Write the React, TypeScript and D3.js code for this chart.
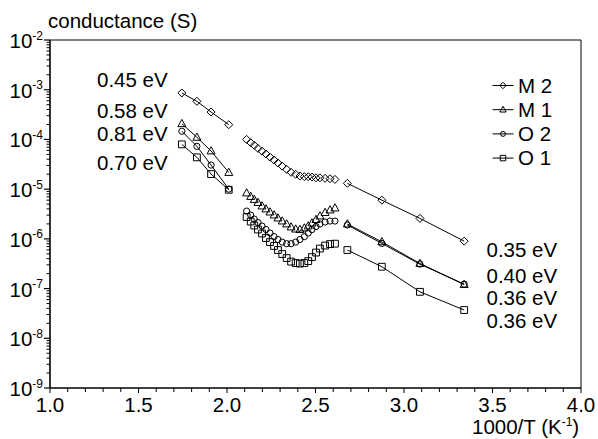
import React from 'react';
import * as d3 from 'd3';

// ---- data (1000/T in K^-1, conductance in S) ----
const leftX = [1.745, 1.83, 1.91, 2.01];
const midX = [2.111, 2.134, 2.154, 2.175, 2.198, 2.22, 2.243, 2.266, 2.288, 2.312, 2.337, 2.362, 2.388, 2.412, 2.437, 2.459, 2.48, 2.503, 2.525, 2.554, 2.582, 2.61];
const rightX = [2.68, 2.875, 3.09, 3.34];

const m2Left = [8.6e-4, 5.85e-4, 3.56e-4, 1.98e-4];
const m2Mid = [1.0e-4, 8.6e-5, 7.6e-5, 6.6e-5, 5.8e-5, 5.1e-5, 4.4e-5, 3.85e-5, 3.35e-5, 2.9e-5, 2.5e-5, 2.18e-5, 1.99e-5, 1.84e-5, 1.78e-5, 1.78e-5, 1.75e-5, 1.69e-5, 1.69e-5, 1.65e-5, 1.62e-5, 1.57e-5];
const m2Right = [1.31e-5, 6.0e-6, 2.58e-6, 9.0e-7];

const m1Left = [2.07e-4, 1.1e-4, 5.85e-5, 2.16e-5];
const m1Mid = [8.36e-6, 7.1e-6, 6.18e-6, 5.37e-6, 4.57e-6, 3.98e-6, 3.46e-6, 3.01e-6, 2.62e-6, 2.28e-6, 1.99e-6, 1.73e-6, 1.57e-6, 1.54e-6, 1.65e-6, 1.81e-6, 2.08e-6, 2.44e-6, 2.88e-6, 3.38e-6, 3.8e-6, 4.17e-6];
const m1Right = [1.99e-6, 8.7e-7, 3.2e-7, 1.2e-7];

const o2Left = [1.46e-4, 7.26e-5, 3.05e-5, 1.0e-5];
const o2Mid = [3.62e-6, 3.01e-6, 2.5e-6, 2.13e-6, 1.81e-6, 1.54e-6, 1.31e-6, 1.11e-6, 9.7e-7, 8.6e-7, 8.0e-7, 8.0e-7, 8.6e-7, 9.7e-7, 1.11e-6, 1.31e-6, 1.54e-6, 1.77e-6, 1.99e-6, 2.18e-6, 2.28e-6, 2.28e-6];
const o2Right = [1.9e-6, 8.1e-7, 3.1e-7, 1.23e-7];

const o1Left = [7.96e-5, 4.36e-5, 2.01e-5, 9.7e-6];
const o1Mid = [2.75e-6, 2.23e-6, 1.85e-6, 1.54e-6, 1.28e-6, 1.04e-6, 8.6e-7, 7.2e-7, 5.96e-7, 4.95e-7, 4.11e-7, 3.49e-7, 3.26e-7, 3.18e-7, 3.26e-7, 3.57e-7, 4.3e-7, 5.3e-7, 6.38e-7, 7.33e-7, 7.85e-7, 8.0e-7];
const o1Right = [5.96e-7, 2.75e-7, 8.6e-8, 3.7e-8];

const seriesNames = ['M 2', 'M 1', 'O 2', 'O 1'];
const seriesSymbols = ['diamond', 'triangle', 'circle', 'square'];
const seriesLeft = [m2Left, m1Left, o2Left, o1Left];
const seriesMid = [m2Mid, m1Mid, o2Mid, o1Mid];
const seriesRight = [m2Right, m1Right, o2Right, o1Right];

const leftLabels = ['0.45 eV', '0.58 eV', '0.81 eV', '0.70 eV'];
const rightLabels = ['0.35 eV', '0.40 eV', '0.36 eV', '0.36 eV'];

const xTickLabels = ['1.0', '1.5', '2.0', '2.5', '3.0', '3.5', '4.0'];
const yExponents = [-9, -8, -7, -6, -5, -4, -3, -2];

const FONT = "'Liberation Sans', Arial, sans-serif";
const FS = 20.5;

function symbolPath(type: string, cx: number, cy: number, k = 1): string {
  if (type === 'diamond') {
    const h = 4 * k;
    return `M${cx},${cy - h}L${cx + h},${cy}L${cx},${cy + h}L${cx - h},${cy}Z`;
  }
  if (type === 'triangle') {
    const w = 4 * k, t = 4.3 * k, b = 2.9 * k;
    return `M${cx},${cy - t}L${cx + w},${cy + b}L${cx - w},${cy + b}Z`;
  }
  if (type === 'square') {
    const s = 3.4 * k;
    return `M${cx - s},${cy - s}H${cx + s}V${cy + s}H${cx - s}Z`;
  }
  const r = 3.1 * k;
  return `M${cx - r},${cy}A${r},${r} 0 1,0 ${cx + r},${cy}A${r},${r} 0 1,0 ${cx - r},${cy}Z`;
}

export default function App() {
  const W = 598, H = 439;
  const L = 50, R = 581, T = 40, B = 388;
  const x = d3.scaleLinear().domain([1, 4]).range([L, R]);
  const y = d3.scaleLog().domain([1e-9, 1e-2]).range([B, T]);
  const line = d3.line<[number, number]>().x(d => x(d[0])).y(d => y(d[1]));

  const xTicks = d3.range(10, 41).map(i => i / 10);
  const yMinor: number[] = [];
  for (let e = -9; e < -2; e++) for (let m = 2; m <= 9; m++) yMinor.push(m * Math.pow(10, e));

  return (
    <svg width={W} height={H} style={{ position: 'absolute', left: 0, top: 0, background: '#fff' }} fontFamily={FONT}>
      <rect x={0} y={0} width={W} height={H} fill="#fff" />
      {/* frame */}
      <line x1={L} y1={T} x2={R} y2={T} stroke="#000" strokeWidth={1} />
      <line x1={R} y1={T} x2={R} y2={B} stroke="#000" strokeWidth={1} />
      <line x1={L} y1={T} x2={L} y2={B} stroke="#000" strokeWidth={1.6} />
      <line x1={L} y1={B} x2={R} y2={B} stroke="#000" strokeWidth={1.6} />

      {/* x ticks */}
      {xTicks.map((v, i) => {
        const major = Math.round(v * 10) % 5 === 0;
        return <line key={'xt' + i} x1={x(v)} x2={x(v)} y1={B} y2={B + (major ? 5 : 4)} stroke="#000" strokeWidth={1} />;
      })}
      {xTickLabels.map(s => (
        <text key={'xl' + s} x={x(+s)} y={411.5} fontSize={FS} textAnchor="middle">{s}</text>
      ))}

      {/* y ticks */}
      {yMinor.map((v, i) => (
        <line key={'ym' + i} x1={L - 3.5} x2={L} y1={y(v)} y2={y(v)} stroke="#000" strokeWidth={1} />
      ))}
      {yExponents.map(e => (
        <g key={'ye' + e}>
          <line x1={L - 6} x2={L} y1={y(Math.pow(10, e))} y2={y(Math.pow(10, e))} stroke="#000" strokeWidth={1.2} />
          <text x={43} y={y(Math.pow(10, e)) + 8} fontSize={FS} textAnchor="end">
            10<tspan fontSize={12} dy={-8.5}>{String(e)}</tspan>
          </text>
        </g>
      ))}

      {/* axis titles */}
      <text x={48} y={28} fontSize={FS}>conductance (S)</text>
      <text x={472} y={434} fontSize={FS}>
        1000/T (K<tspan fontSize={12} dy={-8}>-1</tspan><tspan dy={8}>)</tspan>
      </text>

      {/* series */}
      {seriesNames.map((name, si) => {
        const sym = seriesSymbols[si];
        const lp: [number, number][] = leftX.map((v, i) => [v, seriesLeft[si][i]]);
        const rp: [number, number][] = rightX.map((v, i) => [v, seriesRight[si][i]]);
        const mp: [number, number][] = midX.map((v, i) => [v, seriesMid[si][i]]);
        const all = [...lp, ...mp, ...rp];
        return (
          <g key={name}>
            <path d={line(lp) || ''} fill="none" stroke="#000" strokeWidth={1} />
            <path d={line(rp) || ''} fill="none" stroke="#000" strokeWidth={1} />
            {all.map((d, i) => (
              <path key={i} d={symbolPath(sym, x(d[0]), y(d[1]))} fill="none" stroke="#000" strokeWidth={1} />
            ))}
          </g>
        );
      })}

      {/* activation energy labels */}
      {leftLabels.map((s, i) => (
        <text key={'ll' + i} x={97} y={[87, 118, 140.5, 170][i]} fontSize={FS}>{s}</text>
      ))}
      {rightLabels.map((s, i) => (
        <text key={'rl' + i} x={486.5} y={[256.5, 283, 305, 327.5][i]} fontSize={FS}>{s}</text>
      ))}

      {/* legend */}
      {seriesNames.map((name, i) => {
        const by = 92.5 + i * 24.2;
        const cy = by - 7;
        return (
          <g key={'lg' + name}>
            <line x1={492.5} x2={513.5} y1={cy} y2={cy} stroke="#000" strokeWidth={1} />
            <path d={symbolPath(seriesSymbols[i], 503, cy, 0.8)} fill="none" stroke="#000" strokeWidth={1} />
            <text x={518} y={by} fontSize={FS}>{name}</text>
          </g>
        );
      })}
    </svg>
  );
}
